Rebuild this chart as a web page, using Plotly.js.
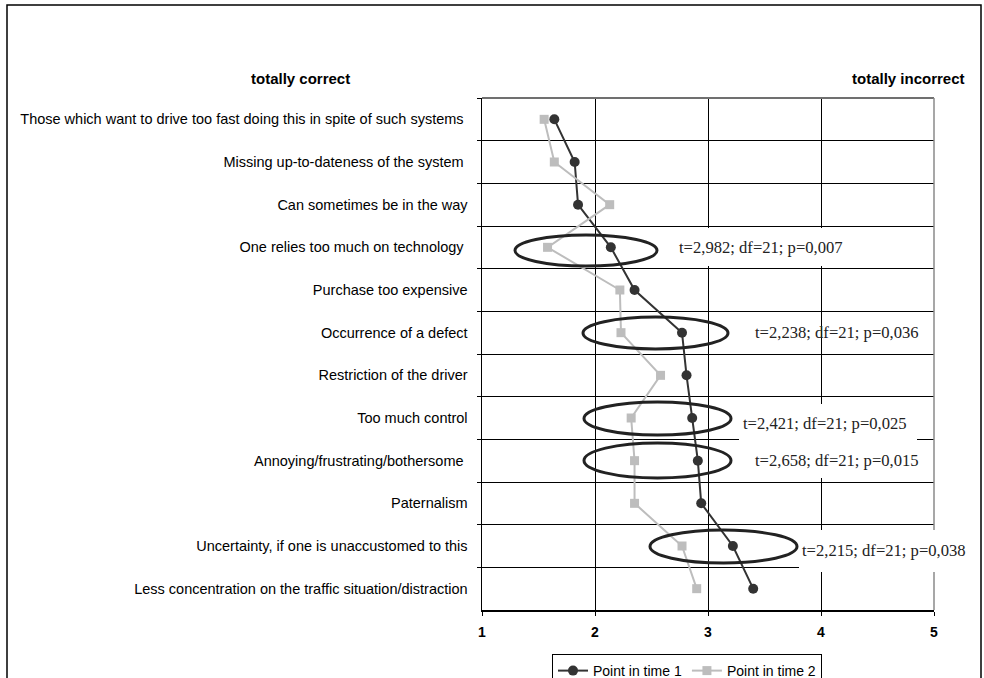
<!DOCTYPE html>
<html>
<head>
<meta charset="utf-8">
<script src="https://cdn.plot.ly/plotly-3.0.1.min.js"></script>
<style>html,body{margin:0;padding:0;background:#fff;}#chart{width:984px;height:678px;}</style>
</head>
<body>
<div id="chart"></div>
<script>
var categories = [
  "Those which want to drive too fast doing this in spite of such systems\u00a0",
  "Missing up-to-dateness of the system\u00a0",
  "Can sometimes be in the way",
  "One relies too much on technology\u00a0",
  "Purchase too expensive",
  "Occurrence of a defect",
  "Restriction of the driver",
  "Too much control",
  "Annoying/frustrating/bothersome\u00a0",
  "Paternalism",
  "Uncertainty, if one is unaccustomed to this",
  "Less concentration on the traffic situation/distraction"
];
var time1 = [1.64, 1.82, 1.85, 2.14, 2.35, 2.77, 2.81, 2.86, 2.91, 2.94, 3.22, 3.40];
var time2 = [1.55, 1.64, 2.13, 1.58, 2.22, 2.23, 2.58, 2.32, 2.35, 2.35, 2.77, 2.90];
var seriesNames = ["Point in time 1", "Point in time 2"];
var xTicks = [1, 2, 3, 4, 5];
var statTexts = [
  "t=2,982; df=21; p=0,007",
  "t=2,238; df=21; p=0,036",
  "t=2,421; df=21; p=0,025",
  "t=2,658; df=21; p=0,015",
  "t=2,215; df=21; p=0,038"
];
var statRows = [3, 5, 7, 8, 10];

// plot-area geometry in pixels (for decorations only)
var L = 482, R = 934, T = 98, B = 610;
function px(x) { return (x - L) / (R - L); }
function py(y) { return (B - y) / (B - T); }

var sans = "Liberation Sans, Arial, sans-serif";
var serif = "Liberation Serif, Times New Roman, serif";

var traces = [
  {x: time1, y: categories, type: "scatter", mode: "lines+markers", name: seriesNames[0],
   line: {color: "#333333", width: 2}, marker: {symbol: "circle", size: 10, color: "#333333"}},
  {x: time2, y: categories, type: "scatter", mode: "lines+markers", name: seriesNames[1],
   line: {color: "#bdbdbd", width: 2}, marker: {symbol: "square", size: 9, color: "#bdbdbd"}}
];

var shapes = [];
// gray top and right borders
shapes.push({type: "line", xref: "paper", yref: "paper", x0: 0, x1: 1, y0: 1, y1: 1, layer: "above", line: {color: "#707070", width: 2}});
shapes.push({type: "line", xref: "paper", yref: "paper", x0: 1, x1: 1, y0: 0, y1: 1, layer: "above", line: {color: "#8a8a8a", width: 1.5}});
// ellipses
var ell = [[515, 657, 235, 266], [583, 728, 317, 349], [584, 731, 402, 435], [584, 731, 443, 478], [650, 797, 530, 563]];
ell.forEach(function (e) {
  shapes.push({type: "circle", xref: "paper", yref: "paper", x0: px(e[0]), x1: px(e[1]), y0: py(e[3]), y1: py(e[2]),
    layer: "above", line: {color: "#222222", width: 3}});
});
// outer frame
shapes.push({type: "rect", xref: "paper", yref: "paper", x0: px(7), x1: px(981), y0: py(720), y1: py(5),
  layer: "above", line: {color: "#000000", width: 1.5}});

var annotations = [];
// white boxes behind some statistics labels
var boxes = [[665, 858, 228, 266], [739, 917, 404, 443], [745, 920, 443, 478], [799, 972, 530, 572]];
boxes.forEach(function (b) {
  annotations.push({text: "\u00a0", xref: "paper", yref: "paper", x: px(b[0]), y: py(b[2]), xanchor: "left", yanchor: "top",
    width: b[1] - b[0], height: b[3] - b[2], bgcolor: "#ffffff", borderpad: 0, borderwidth: 0, showarrow: false,
    font: {size: 2, color: "#ffffff"}});
});
var annXStart = [678, 754, 742, 754, 801];
var annYShift = [0, 0, -5, 0, -4];
statTexts.forEach(function (t, i) {
  annotations.push({text: t, xref: "paper", x: px(annXStart[i]), xanchor: "left", yref: "y", y: statRows[i],
    yanchor: "middle", yshift: annYShift[i], showarrow: false, borderpad: 0,
    font: {family: serif, size: 16.6, color: "#222222"}});
});
annotations.push({text: "totally correct", xref: "paper", yref: "paper", x: px(300), y: py(78), xanchor: "center", yanchor: "middle",
  showarrow: false, font: {family: sans, size: 15, color: "#000", weight: "bold"}});
annotations.push({text: "totally incorrect", xref: "paper", yref: "paper", x: px(967), y: py(78), xanchor: "right", yanchor: "middle",
  showarrow: false, font: {family: sans, size: 15, color: "#000", weight: "bold"}});

var layout = {
  width: 984, height: 678,
  margin: {l: L, r: 984 - R, t: T, b: 678 - B, autoexpand: false},
  paper_bgcolor: "#ffffff", plot_bgcolor: "#ffffff",
  showlegend: true,
  legend: {orientation: "h", x: px(552), xanchor: "left", y: py(654), yanchor: "top",
    bgcolor: "#ffffff", bordercolor: "#000000", borderwidth: 1,
    font: {family: sans, size: 14, color: "#000"}},
  xaxis: {range: [1, 5], tickvals: xTicks, ticktext: xTicks.map(String), showgrid: true, gridcolor: "#000000", gridwidth: 1,
    zeroline: false, showline: true, linecolor: "#000000", linewidth: 1.5, ticks: "outside", ticklen: 4, tickcolor: "#000",
    ticklabelstandoff: 5, tickfont: {family: sans, size: 14, color: "#000", weight: "bold"}, fixedrange: true},
  yaxis: {type: "category", categoryorder: "array", categoryarray: categories, range: [11.5, -0.5],
    tickson: "boundaries", showgrid: true, gridcolor: "#000000", gridwidth: 1, zeroline: false,
    showline: true, linecolor: "#000000", linewidth: 1.5, ticks: "outside", ticklen: 4, tickcolor: "#000",
    ticklabelstandoff: 10, tickfont: {family: sans, size: 14.5, color: "#000"}, fixedrange: true},
  shapes: shapes,
  annotations: annotations
};

Plotly.newPlot("chart", traces, layout, {displayModeBar: false, staticPlot: true});
</script>
</body>
</html>
